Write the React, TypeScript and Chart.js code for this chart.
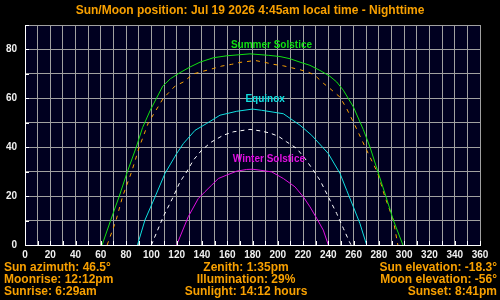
import React, { useEffect, useRef } from "react";
import { Chart, registerables } from "chart.js";

Chart.register(...registerables);

// ---- data ----
const titleText = "Sun/Moon position: Jul 19 2026 4:45am local time - Nighttime";

const summerAz = [61, 67.7, 74.6, 81, 88, 93, 99, 104, 109, 115, 122.6, 130.5, 138.5, 149, 159.6, 168.8, 178, 192.5, 201.8, 209.7, 217.6, 225.5, 233.4, 241.3, 246.6, 251.9, 259.8, 267.7, 273, 279.5, 285.5, 291.4, 299];
const summerEl = [0, 10, 20, 30, 40, 48, 55, 60, 65, 68, 70.5, 72.8, 74.8, 76.6, 77.4, 77.8, 78.2, 77.6, 77.1, 76.2, 74.8, 73.5, 71.4, 69, 66.7, 63.3, 56.5, 47.2, 40, 29.5, 20, 10.2, 0];

const moonAz = [65, 72, 77.3, 84.4, 90.4, 97.6, 109.4, 118.7, 125.3, 133.2, 141.1, 149, 155.7, 163.5, 170.1, 178, 182, 189.9, 196.5, 204.4, 211, 217.6, 224.2, 229.4, 236, 241.3, 249.2, 254.5, 261, 270.3, 279, 284.8, 291.4, 295];
const moonEl = [0, 10, 20, 30, 40, 50, 60, 65, 66.7, 70, 71.1, 72.2, 73.2, 73.9, 74.7, 75.2, 75.5, 74.7, 73.9, 73.3, 72.5, 71.7, 70.7, 69.4, 66.2, 64, 60.5, 55.8, 49, 38.8, 29.5, 19.7, 10.2, 0];

const equinoxAz = [89, 94.9, 102.9, 110.8, 120, 125.3, 134.5, 143.7, 154.3, 167.5, 180, 187.3, 204.4, 217.6, 226.8, 240, 249.2, 254.5, 259.8, 265, 270.3];
const equinoxEl = [0, 10.2, 19.7, 29.3, 37.4, 41.5, 46.9, 49.7, 53.1, 54.7, 55.6, 55.1, 53.7, 49, 44.9, 37.4, 29.3, 22.4, 15.6, 8.8, 0];

const sunAz = [100, 109.4, 117.3, 122.6, 127.9, 133.2, 139.8, 147.7, 156.9, 164.8, 178, 186, 193.8, 200.4, 207, 215, 221.5, 228.1, 233.4, 240, 246.6, 251.9, 256.6, 258];
const sunEl = [0, 11.6, 19.7, 25.8, 29.9, 34.7, 38.8, 42.2, 44.9, 46.3, 47.3, 46.7, 45.8, 44.5, 42.2, 39.5, 35.4, 30.6, 26.5, 19.7, 12.9, 6.8, 1.4, 0];

const winterAz = [120, 129.2, 137.1, 142.4, 147.7, 153, 159.6, 167.5, 175.4, 180, 186, 195.2, 204.4, 213.6, 220.2, 225.5, 230.8, 236, 240];
const winterEl = [0, 11.6, 19, 21.8, 24.5, 27.2, 28.6, 30.2, 30.9, 31, 30.6, 29.9, 27.2, 23.8, 19.7, 15.6, 10.9, 6.1, 0];

const xLabelTicks = [0, 20, 40, 60, 80, 100, 120, 140, 160, 180, 200, 220, 240, 260, 280, 300, 320, 340, 360];
const yLabelTicks = [0, 20, 40, 60, 80];

const curveLabelText = ["Summer Solstice", "Equinox", "Winter Solstice"];
const curveLabelAz = [195, 190, 193];
const curveLabelEl = [81.6, 59.5, 35];

const infoLeft = ["Sun azimuth: 46.5°", "Moonrise: 12:12pm", "Sunrise: 6:29am"];
const infoCenter = ["Zenith: 1:35pm", "Illumination: 29%", "Sunlight: 14:12 hours"];
const infoRight = ["Sun elevation: -18.3°", "Moon elevation: -56°", "Sunset: 8:41pm"];

// ---- styles ----
const ORANGE = "#f8a000";
const GREEN = "#10e010";
const CYAN = "#10e0e0";
const MAGENTA = "#e010e0";
const WHITE = "#ffffff";
const GRID = "#a0a0a0";
const FONT = '"Liberation Sans", Arial, sans-serif';

const pts = (xs: number[], ys: number[]) => xs.map((x, i) => ({ x, y: ys[i] }));

const decorPlugin = {
  id: "decor",
  beforeDraw(chart: any) {
    const { ctx, chartArea: a } = chart;
    ctx.save();
    ctx.fillStyle = "#000000";
    ctx.fillRect(0, 0, chart.width, chart.height);
    ctx.fillStyle = "#000020";
    ctx.fillRect(a.left, a.top, a.right - a.left, a.bottom - a.top);
    ctx.restore();
  },
  afterDraw(chart: any) {
    const { ctx, chartArea: a, scales } = chart;
    const xs = scales.x;
    const ys = scales.y;
    ctx.save();
    // inward white ticks
    ctx.strokeStyle = WHITE;
    ctx.lineWidth = 1;
    ctx.beginPath();
    for (let v = 0; v <= 360; v += 10) {
      const px = Math.round(xs.getPixelForValue(v)) + 0.5;
      ctx.moveTo(px, a.bottom);
      ctx.lineTo(px, a.bottom - 4);
    }
    for (let v = 0; v <= 90; v += 10) {
      const py = Math.round(ys.getPixelForValue(v)) + 0.5;
      ctx.moveTo(a.left, py);
      ctx.lineTo(a.left + 4, py);
    }
    ctx.stroke();
    ctx.beginPath();
    ctx.moveTo(a.left, a.bottom + 0.5);
    ctx.lineTo(a.right, a.bottom + 0.5);
    ctx.moveTo(a.left + 0.5, a.top);
    ctx.lineTo(a.left + 0.5, a.bottom);
    ctx.stroke();

    // curve labels
    const lblColors = [GREEN, CYAN, MAGENTA];
    ctx.font = "bold 10px " + FONT;
    ctx.textAlign = "center";
    ctx.textBaseline = "middle";
    curveLabelText.forEach((t, i) => {
      ctx.fillStyle = lblColors[i];
      ctx.fillText(t, xs.getPixelForValue(curveLabelAz[i]), ys.getPixelForValue(curveLabelEl[i]));
    });

    // title
    ctx.fillStyle = ORANGE;
    ctx.font = "bold 12px " + FONT;
    ctx.textBaseline = "alphabetic";
    ctx.textAlign = "center";
    ctx.fillText(titleText, 250, 14);

    // info rows
    const rowY = [271, 283, 295];
    ctx.font = "bold 12px " + FONT;
    rowY.forEach((y, i) => {
      ctx.textAlign = "left";
      ctx.fillText(infoLeft[i], 4, y);
      ctx.textAlign = "center";
      ctx.fillText(infoCenter[i], 246, y);
      ctx.textAlign = "right";
      ctx.fillText(infoRight[i], 497, y);
    });
    ctx.restore();
  },
};

export default function App() {
  const ref = useRef<HTMLCanvasElement>(null);
  useEffect(() => {
    document.body.style.margin = "0";
    document.body.style.background = "#000";
    const canvas = ref.current!;
    const ds = (label: string, xs: number[], ys: number[], color: string, dash: number[]) => ({
      label,
      data: pts(xs, ys),
      borderColor: color,
      backgroundColor: color,
      borderWidth: 1,
      borderDash: dash,
      pointRadius: 0,
      showLine: true,
      tension: 0,
      fill: false,
    });
    const chart = new Chart(canvas, {
      type: "scatter",
      data: {
        datasets: [
          ds("Summer Solstice", summerAz, summerEl, GREEN, []),
          ds("Equinox", equinoxAz, equinoxEl, CYAN, []),
          ds("Winter Solstice", winterAz, winterEl, MAGENTA, []),
          ds("Sun", sunAz, sunEl, WHITE, [4, 4]),
          ds("Moon", moonAz, moonEl, ORANGE, [4, 5]),
        ],
      },
      options: {
        animation: false,
        responsive: false,
        devicePixelRatio: 1,
        layout: { padding: { top: 25, right: 20, left: 0, bottom: 0 } },
        plugins: { legend: { display: false }, tooltip: { enabled: false }, title: { display: false } },
        scales: {
          x: {
            type: "linear",
            min: 0,
            max: 360,
            afterFit: (s: any) => { s.height = 55; },
            afterBuildTicks: (s: any) => {
              const t = [];
              for (let v = 0; v <= 360; v += 10) t.push({ value: v });
              s.ticks = t;
            },
            ticks: {
              autoSkip: false,
              maxRotation: 0,
              padding: 4,
              color: "#f0f0f0",
              font: { family: FONT, size: 10, weight: "bold" },
              callback: (v: any) => (xLabelTicks.includes(Number(v)) ? String(v) : ""),
            },
            grid: { color: GRID, drawTicks: false, lineWidth: 1 },
            border: { color: WHITE },
          },
          y: {
            type: "linear",
            min: 0,
            max: 90,
            afterFit: (s: any) => { s.width = 25; },
            afterBuildTicks: (s: any) => {
              const t = [];
              for (let v = 0; v <= 90; v += 10) t.push({ value: v });
              s.ticks = t;
            },
            ticks: {
              autoSkip: false,
              padding: 8,
              color: "#f0f0f0",
              font: { family: FONT, size: 10, weight: "bold" },
              callback: (v: any) => (yLabelTicks.includes(Number(v)) ? String(v) : ""),
            },
            grid: { color: GRID, drawTicks: false, lineWidth: 1 },
            border: { color: WHITE },
          },
        },
      },
      plugins: [decorPlugin],
    } as any);
    return () => chart.destroy();
  }, []);
  return (
    <div style={{ position: "fixed", left: 0, top: 0, width: 500, height: 300, background: "#000" }}>
      <canvas ref={ref} width={500} height={300} style={{ display: "block", width: 500, height: 300 }} />
    </div>
  );
}
